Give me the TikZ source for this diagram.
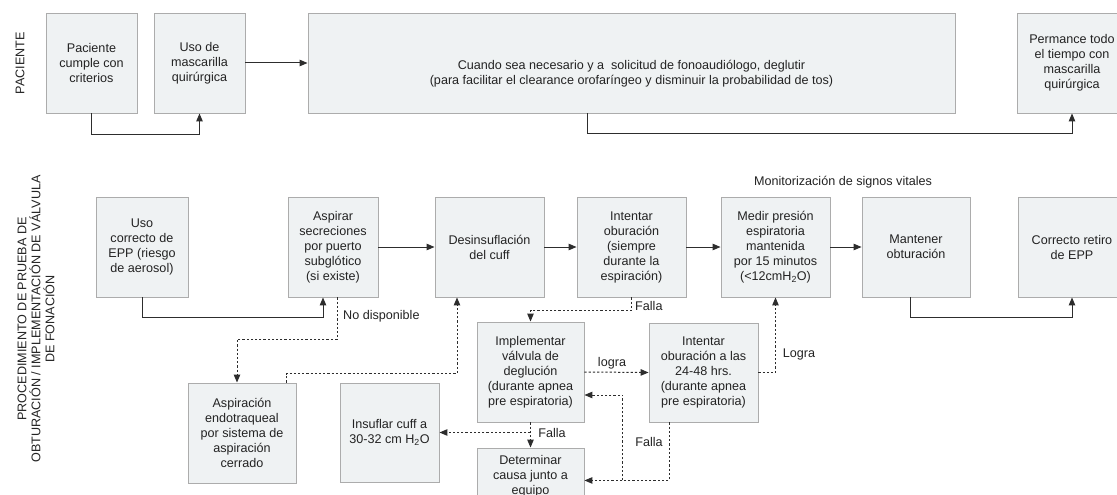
\documentclass[tikz,border=0pt]{standalone}
\usepackage{fontspec}
\setmainfont{Liberation Sans}
\usetikzlibrary{arrows.meta,calc}
\definecolor{boxfill}{RGB}{239,242,243}
\definecolor{boxline}{RGB}{172,172,172}
\definecolor{ink}{RGB}{35,35,35}
\definecolor{conn}{RGB}{45,45,45}
\newcommand\dgfont{\fontsize{12.6}{15}\selectfont}
\begin{document}
\begin{tikzpicture}[x=1pt,y=-1pt,
  box/.style={draw=boxline, fill=boxfill, line width=0.9pt, align=center, text=ink, font=\dgfont, inner sep=0pt},
  txt/.style={align=center, text=ink, font=\dgfont, inner sep=0pt},
  arr/.style={draw=conn, line width=1pt, -{Triangle[length=8pt,width=6.5pt]}},
  darr/.style={arr, dash pattern=on 2.2pt off 2pt},
  ln/.style={draw=conn, line width=1pt},
  dln/.style={ln, dash pattern=on 2.2pt off 2pt}]
\useasboundingbox (0,0) rectangle (1117,495);
\clip (0,0) rectangle (1117,495);
\fill[white] (0,0) rectangle (1117,495);

% ---------- top lane ----------
\node[txt, rotate=90] (lanep) at (20,63) {PACIENTE};
\node[box, minimum width=91pt, minimum height=100pt] (pac) at (91.5,63) {Paciente\\cumple con\\criterios};
\node[box, minimum width=91pt, minimum height=100pt] (masc) at (199.5,63) {Uso de\\mascarilla\\quirúrgica};
\node[box, minimum width=647pt, minimum height=100pt] (big) at (631.5,63) {};
\node[txt] (bigtext) at (631.5,74) {Cuando sea necesario y a\ \ solicitud de fonoaudiólogo, deglutir\\(para facilitar el clearance orofaríngeo y disminuir la probabilidad de tos)};
\node[box, minimum width=110pt, minimum height=100pt] (perm) at (1072,63) {Permance todo\\el tiempo con\\mascarilla\\quirúrgica};

\draw[arr] (masc.east) -- (big.west);
\draw[arr] (pac.south) -- ++(0,21) -| (masc.south);
\draw[arr] ([xshift=-44.5pt]big.south) -- ++(0,20) -| (perm.south);

% ---------- bottom lane ----------
\node[txt, rotate=90, font=\fontsize{12.6}{14}\selectfont] (laneb) at (36,319) {PROCEDIMIENTO DE PRUEBA DE\\OBTURACIÓN / IMPLEMENTACIÓN DE VÁLVULA\\DE FONACIÓN};
\node[txt] (monit) at (843,182) {Monitorización de signos vitales};

\node[box, minimum width=92pt, minimum height=100pt] (uso) at (142,247) {Uso\\correcto de\\EPP (riesgo\\de aerosol)};
\node[box, minimum width=90pt, minimum height=100pt] (asp) at (333,247) {Aspirar\\secreciones\\por puerto\\subglótico\\(si existe)};
\node[box, minimum width=109pt, minimum height=100pt] (des) at (489.5,247) {Desinsuflación\\del cuff};
\node[box, minimum width=109pt, minimum height=100pt] (int) at (631.5,247) {Intentar\\oburación\\(siempre\\durante la\\espiración)};
\node[box, minimum width=109pt, minimum height=100pt] (med) at (775.5,247) {Medir presión\\espiratoria\\mantenida\\por 15 minutos\\(<12cmH\textsubscript{2}O)};
\node[box, minimum width=108pt, minimum height=100pt] (mant) at (916,247) {Mantener\\obturación};
\node[box, minimum width=108pt, minimum height=100pt] (ret) at (1072,247) {Correcto retiro\\de EPP};

\node[box, minimum width=108pt, minimum height=100pt] (aend) at (242,433) {Aspiración\\endotraqueal\\por sistema de\\aspiración\\cerrado};
\node[box, minimum width=99pt, minimum height=99pt] (ins) at (389.5,432.5) {Insuflar cuff a\\30-32 cm H\textsubscript{2}O};
\node[box, minimum width=107pt, minimum height=100pt] (impl) at (530.5,372) {Implementar\\válvula de\\deglución\\(durante apnea\\pre espiratoria)};
\node[box, minimum width=109pt, minimum height=99pt] (int24) at (703.5,372.5) {Intentar\\oburación a las\\24-48 hrs.\\(durante apnea\\pre espiratoria)};
\node[box, minimum width=107pt, minimum height=56pt] (det) at (530.5,476) {Determinar\\causa junto a\\equipo};

% solid connectors
\draw[arr] (asp.east) -- (des.west);
\draw[arr] (des.east) -- (int.west);
\draw[arr] (int.east) -- (med.west);
\draw[arr] (med.east) -- (mant.west);
\draw[arr] (uso.south) -- ++(0,20) -| ([xshift=-10pt]asp.south);
\draw[arr] ([xshift=-6pt]mant.south) -- ++(0,20) -| (ret.south);

% dashed connectors
\draw[darr] ([xshift=4pt]asp.south) -- ++(0,42) -| ([xshift=-5pt]aend.north);
\draw[darr] ([xshift=44pt]aend.north) -- ++(0,-9) -| ([xshift=-32.5pt]des.south);
\draw[darr] (int.south) -- ++(0,13) -| (impl.north);
\draw[darr] (impl.east) -- (int24.west);
\draw[darr] (int24.east) -- ++(16,0) -| (med.south);
\draw[darr] (impl.south) -- (det.north);
\draw[darr] (ins.east -| impl.south) -- (ins.east);
\draw[darr] ([xshift=-34.5pt]int24.south) -- ++(0,58) coordinate (fl) -- (fl -| det.east);
\draw[darr] ([xshift=38pt]fl -| impl.east) -- ([xshift=38pt,yshift=-23pt]impl.east) -- ([yshift=-23pt]impl.east);

% connector labels
\node[txt, anchor=west] (lnd) at (343,316) {No disponible};
\node[txt, anchor=west] (lf1) at (635,306) {Falla};
\node[txt] (llg) at (612,363) {logra};
\node[txt] (lLg) at (799,354) {Logra};
\node[txt] (lf2) at (552,433) {Falla};
\node[txt] (lf3) at (649,442) {Falla};
\end{tikzpicture}
\end{document}
